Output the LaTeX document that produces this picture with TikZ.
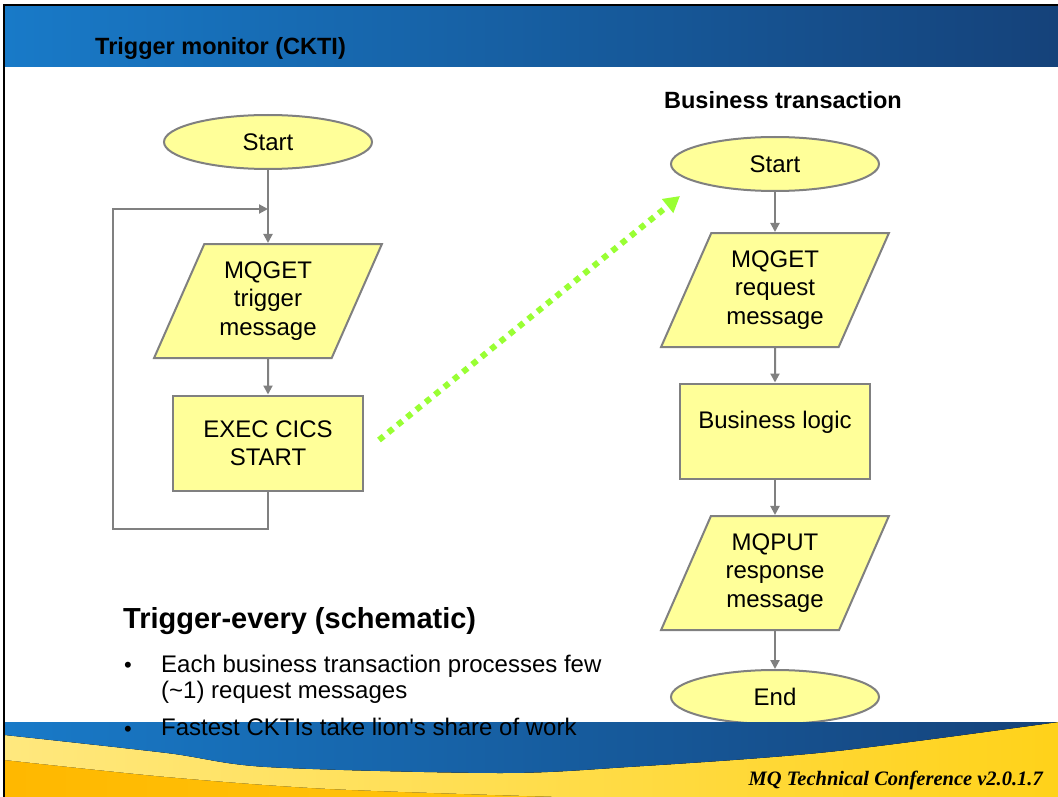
\documentclass[tikz,border=0pt]{standalone}
\usepackage{fontspec}
\setmainfont{Liberation Sans}
\newfontfamily\confont{Liberation Serif}
\usetikzlibrary{shapes.geometric,arrows.meta,calc}

\definecolor{boxfill}{HTML}{FFFF99}
\definecolor{boxline}{HTML}{808080}
\definecolor{hdrleft}{RGB}{24,122,200}
\definecolor{hdrright}{RGB}{21,66,122}
\definecolor{trigger}{HTML}{99FF33}
\definecolor{palegold}{HTML}{FFE87E}
\definecolor{deepgold}{HTML}{FFB800}
\definecolor{gold}{HTML}{FFD21A}

\tikzset{
    flow/.style={draw=boxline, line width=2pt, fill=boxfill, align=center,
        inner sep=0pt, font=\fontsize{24}{28.5}\selectfont},
    term/.style={flow, ellipse, minimum width=208pt, minimum height=54pt},
    io/.style={flow, trapezium, trapezium stretches=true,
        trapezium left angle=64, trapezium right angle=116,
        minimum width=228pt, minimum height=114pt},
    proc/.style={flow, rectangle, minimum width=190pt, minimum height=95pt},
    link/.style={draw=boxline, line width=2pt, -{Triangle[length=9pt,width=9pt]}},
    hop/.style={draw=trigger, line width=6pt, dash pattern=on 6pt off 6pt,
        -{Triangle[length=16pt,width=17pt]}},
    bodytext/.style={anchor=base west, inner sep=0pt, font=\fontsize{24}{27.5}\selectfont},
    dot/.style={anchor=base, inner sep=0pt, font=\fontsize{22}{22}\selectfont}
}

\begin{document}
\begin{tikzpicture}[x=1pt, y=-1pt]
    \fill[white] (0,0) rectangle (1058,797);
    \useasboundingbox (0,0) rectangle (1058,797);

    % header band
    \fill[left color=hdrleft, right color=hdrright] (5,7) rectangle (1058,67);
    \node[anchor=base west, inner sep=0pt, font=\fontsize{23.5}{26}\selectfont\bfseries]
        (title) at (95,55) {Trigger monitor (CKTI)};

    % trigger monitor loop
    \node[term] (startL) at (268,142) {Start};
    \node[io] (getL) at (268,301) {MQGET\\trigger\\message};
    \node[proc] (execL) at (268,443) {EXEC CICS\\START};

    \coordinate (loop-in) at ($(startL.south)+(0,39)$);
    \coordinate (loop-se) at ($(execL.south)+(0,37)$);
    \coordinate (loop-sw) at ($(loop-se)+(-155,0)$);
    \coordinate (loop-nw) at (loop-sw |- loop-in);
    \draw[link] (startL) -- (getL);
    \draw[link] (getL) -- (execL);
    \draw[link] (execL.south) -- (loop-se) -- (loop-sw) -- (loop-nw) -- (loop-in);

    % business transaction
    \node[anchor=base, inner sep=0pt, font=\fontsize{23.5}{26}\selectfont\bfseries]
        (bizhead) at (783,109) {Business transaction};
    \node[term] (startR) at (775,164) {Start};
    \node[io] (getR) at (775,290) {MQGET\\request\\message};
    \node[proc, text depth=23pt] (logic) at (775,431) {Business logic};
    \node[io] (putR) at (775,573) {MQPUT\\response\\message};
    \node[term] (endR) at (775,697) {End};

    \draw[link] (startR) -- (getR);
    \draw[link] (getR) -- (logic);
    \draw[link] (logic) -- (putR);
    \draw[link] (putR) -- (endR);

    % start of the transaction
    \coordinate (hop-from) at ($(execL.east)+(15,-3)$);
    \coordinate (hop-to) at ($(startR.west)+(10,32)$);
    \draw[hop] (hop-from) -- (hop-to);

    % footer swoosh
    \fill[left color=deepgold, right color=gold] (5,722) rectangle (1058,797);
    \fill[left color=palegold, right color=gold] (5,735)
        -- plot[smooth] coordinates {(5,735) (167,753) (267,767) (500,773) (628,767) (828,752) (1058,722)}
        -- (1058,797) -- (560,797)
        -- plot[smooth] coordinates {(560,797) (330,789) (167,777) (5,760)} -- cycle;
    \fill[left color=hdrleft, right color=hdrright] (5,722) -- (1058,722)
        -- plot[smooth] coordinates {(1058,722) (828,752) (628,767) (500,773) (267,767) (167,753) (5,735)}
        -- cycle;
    \node[anchor=base east, inner sep=0pt, font=\confont\fontsize{20.5}{22}\selectfont\bfseries\itshape]
        (conf) at (1043,785) {MQ Technical Conference v2.0.1.7};

    % notes
    \node[anchor=base west, inner sep=0pt, font=\fontsize{29}{32}\selectfont\bfseries]
        (schema) at (123,628) {Trigger-every (schematic)};
    \node[dot] (dot1) at (128,672) {\textbullet};
    \node[bodytext] (note1) at (161,672) {Each business transaction processes few};
    \node[bodytext] (note1b) at (161,698) {(\textasciitilde1) request messages};
    \node[dot] (dot2) at (128,736) {\textbullet};
    \node[bodytext] (note2) at (161,735) {Fastest CKTIs take lion\textquotesingle s share of work};

    % slide frame
    \draw[line width=1.5pt] (4,797) -- (4,5) -- (1058,5);
\end{tikzpicture}
\end{document}
